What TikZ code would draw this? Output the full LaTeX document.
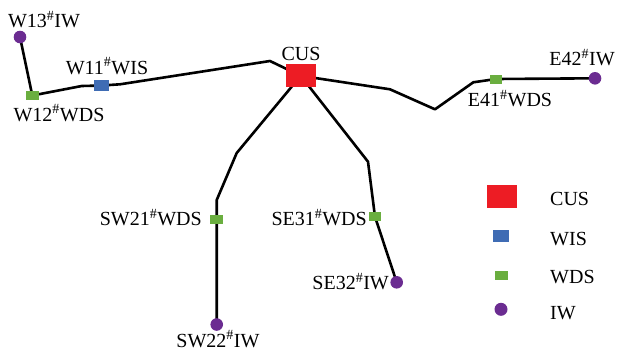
\documentclass[tikz,border=0pt]{standalone}
\usepackage{fontspec}
\setmainfont{Liberation Serif}
\usetikzlibrary{backgrounds}
\definecolor{cusred}{HTML}{ED1C24}
\definecolor{wisblue}{HTML}{3F6CB4}
\definecolor{wdsgreen}{HTML}{6AAE3F}
\definecolor{iwpurple}{HTML}{6B2C91}
\begin{document}
\begin{tikzpicture}[x=1pt,y=-1pt,
  cusbox/.style={rectangle,fill=cusred,minimum width=30pt,minimum height=23pt,inner sep=0pt},
  wisbox/.style={rectangle,fill=wisblue,minimum width=15pt,minimum height=11pt,inner sep=0pt},
  wdsbox/.style={rectangle,fill=wdsgreen,minimum width=12.5pt,minimum height=9pt,inner sep=0pt},
  iwdot/.style={circle,fill=iwpurple,minimum size=12.6pt,inner sep=0pt},
  lbl/.style={inner sep=0pt,font=\fontsize{20}{22}\selectfont,text height=13.2pt,text depth=0pt},
  pipe/.style={line width=2.6pt,line join=round,line cap=round}]
\useasboundingbox (0,0) rectangle (617,354);
% nodes
\node[iwdot] (w13) at (20,37) {};
\node[wdsbox] (w12) at (32.3,95.5) {};
\node[wisbox] (w11) at (101.8,85.5) {};
\node[cusbox] (cus) at (300.7,75.8) {};
\node[wdsbox] (e41) at (496,79) {};
\node[iwdot] (e42) at (595,78.3) {};
\node[wdsbox] (sw21) at (216.7,219.3) {};
\node[iwdot] (sw22) at (216.7,324.5) {};
\node[wdsbox] (se31) at (375,216.7) {};
\node[iwdot] (se32) at (396.7,282.3) {};
% labels
\node[lbl] (lw13) at (44,21) {W13\textsuperscript{\#}IW};
\node[lbl] (lw12) at (59,114.5) {W12\textsuperscript{\#}WDS};
\node[lbl] (lw11) at (107,67.5) {W11\textsuperscript{\#}WIS};
\node[lbl] (lcus) at (301,54) {CUS};
\node[lbl] (le42) at (582,59) {E42\textsuperscript{\#}IW};
\node[lbl] (le41) at (510,100) {E41\textsuperscript{\#}WDS};
\node[lbl,anchor=east] (lsw21) at (202,219) {SW21\textsuperscript{\#}WDS};
\node[lbl,anchor=east] (lse31) at (367,219.3) {SE31\textsuperscript{\#}WDS};
\node[lbl,anchor=east] (lse32) at (389,283.3) {SE32\textsuperscript{\#}IW};
\node[lbl] (lsw22) at (218,340.5) {SW22\textsuperscript{\#}IW};
% connectors
\begin{scope}[on background layer]
\draw[pipe] (w13.center) -- (w12.center);
\draw[pipe] (w12.center) -- (81.7,86) -- (w11.center) -- (120,84.3) -- (270,61) -- (cus.center);
\draw[pipe] (cus.center) -- (390,89.3) -- (435,109.3) -- (473.3,82.3) -- (e41.center) -- (e42.center);
\draw[pipe] (cus.center) -- (236.7,153) -- (216.7,200) -- (sw21.center) -- (sw22.center);
\draw[pipe] (cus.center) -- (368,161.7) -- (se31.center) -- (se32.center);
\end{scope}
% legend
\node[cusbox] (gcus) at (501.7,196) {};
\node[wisbox,minimum width=16pt,minimum height=11.7pt] (gwis) at (501.3,236) {};
\node[wdsbox,minimum width=13pt] (gwds) at (501.7,275.3) {};
\node[iwdot,minimum size=13pt] (giw) at (501,309.3) {};
\node[lbl,anchor=west] (tcus) at (550,199.3) {CUS};
\node[lbl,anchor=west] (twis) at (550,239.3) {WIS};
\node[lbl,anchor=west] (twds) at (550,276.7) {WDS};
\node[lbl,anchor=west] (tiw) at (550,312.7) {IW};
\end{tikzpicture}
\end{document}
